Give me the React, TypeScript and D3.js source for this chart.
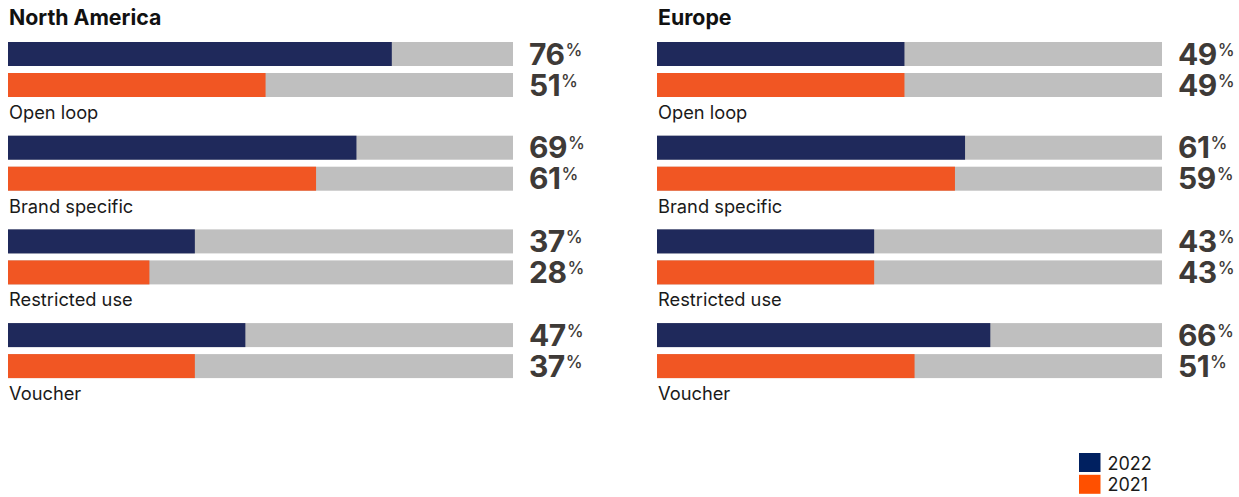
import React from 'react';
import * as d3 from 'd3';

const categories = ['Open loop', 'Brand specific', 'Restricted use', 'Voucher'];
const regions = ['North America', 'Europe'];
const values2022 = [
  [76, 69, 37, 47],
  [49, 61, 43, 66],
];
const values2021 = [
  [51, 61, 28, 37],
  [49, 59, 43, 51],
];
const legendYears = ['2022', '2021'];

const W = 1239;
const H = 497;
const FONT = 'Inter, "Noto Sans", sans-serif';
const NAVY = '#1f295b';
const ORANGE = '#f15623';
const GREY = '#bfbfbf';
const VALUE_INK = '#3e3a37';
const panelLeft = [8, 657];
const barSpan = 505;
const barH = 24;
const barGap = 7;

function Panel({ idx }: { idx: number }) {
  const x0 = panelLeft[idx];
  const x = d3.scaleLinear().domain([0, 100]).range([x0, x0 + barSpan]);
  const y = d3.scaleBand<string>().domain(categories).range([42, 42 + 93.7 * categories.length]);
  const rows = categories.map((c, i) => ({ c, v22: values2022[idx][i], v21: values2021[idx][i] }));

  return (
    <g>
      <text x={x0 + 1} y={25} fontFamily={FONT} fontWeight={700} fontSize={21.3} fill="#111">
        {regions[idx]}
      </text>
      {rows.map(r => {
        const top = y(r.c) ?? 0;
        const bars = [
          { v: r.v22, color: NAVY, y: top },
          { v: r.v21, color: ORANGE, y: top + barH + barGap },
        ];
        return (
          <g key={r.c}>
            {bars.map((b, j) => (
              <g key={j}>
                <rect x={x(0)} y={b.y} width={x(100) - x(0)} height={barH} fill={GREY} />
                <rect x={x(0)} y={b.y} width={x(b.v) - x(0)} height={barH} fill={b.color} />
                <text x={x(100) + 16} y={b.y + 22.5} fontFamily={FONT} fill={VALUE_INK}>
                  <tspan fontWeight={700} fontSize={30} letterSpacing={-0.5}>{b.v}</tspan>
                  <tspan fontWeight={500} fontSize={17} dx={1} dy={-9}>%</tspan>
                </text>
              </g>
            ))}
            <text x={x0 + 1} y={top + 77} fontFamily={FONT} fontSize={18.3} fill="#1a1a1a">
              {r.c}
            </text>
          </g>
        );
      })}
    </g>
  );
}

export default function App() {
  const legendColors = ['#002060', '#ff5000'];
  return (
    <div style={{ position: 'absolute', left: 0, top: 0, background: '#fff' }}>
      <svg width={W} height={H} style={{ display: 'block' }}>
        <rect width={W} height={H} fill="#fff" />
        <Panel idx={0} />
        <Panel idx={1} />
        {legendYears.map((yr, i) => (
          <g key={yr} transform={`translate(1079,${453 + i * 21.8})`}>
            <rect width={21.5} height={19} fill={legendColors[i]} />
            <text x={28.5} y={16.5} fontFamily={FONT} fontSize={18} fill="#1a1a1a">{yr}</text>
          </g>
        ))}
      </svg>
    </div>
  );
}
